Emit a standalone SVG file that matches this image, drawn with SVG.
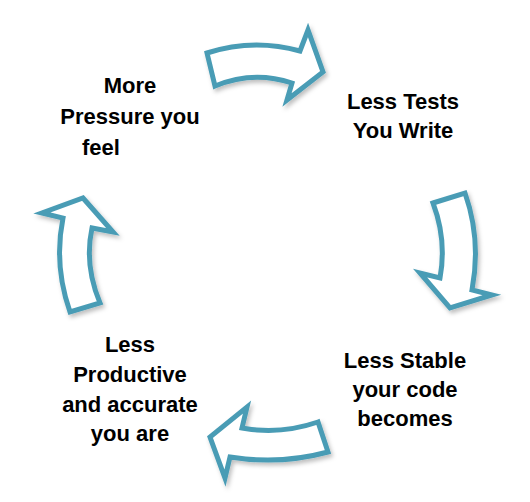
<svg xmlns="http://www.w3.org/2000/svg" width="530" height="502" viewBox="0 0 530 502">
<defs>
<style>
.arrow{fill:#ffffff;stroke:#4a9cb5;stroke-width:5;stroke-linejoin:miter;stroke-miterlimit:10;filter:url(#sh)}
.lbl{font-family:"Liberation Sans",Arial,sans-serif;font-weight:bold;font-size:22px;fill:#000000;text-anchor:middle}
</style>
<filter id="sh" x="-20%" y="-20%" width="150%" height="150%">
<feDropShadow dx="2" dy="3" stdDeviation="2" flood-color="#000000" flood-opacity="0.25"/>
</filter>
</defs>
<rect width="530" height="502" fill="#ffffff"/>
<g id="connectors">
<path id="arrow-top" class="arrow" d="M207,53 Q253,38 300,51 L308,30 L323,72 L287,100 L292,83 Q253,70 215,86 Z"/>
<path id="arrow-right" class="arrow" d="M433,203 L465,193 Q481.5,240 472,290 L492,295 L450,308 L420,273 L440,278 Q447,240 433,203 Z"/>
<path id="arrow-bottom" class="arrow" d="M318,422 Q280,435 242,428 L247,407 L210,437 L225,478 L230,457 Q280,465 328,452 Z"/>
<path id="arrow-left" class="arrow" d="M70,312 Q53.5,265 63,218 L42,213 L83,198 L113,232 L92,228 Q84,265 100,303 Z"/>
</g>
<g id="node-pressure">
<text class="lbl" x="130" y="93">More</text>
<text class="lbl" x="130" y="124">Pressure you</text>
<text class="lbl" x="82" y="155" style="text-anchor:start">feel</text>
</g>
<g id="node-tests">
<text class="lbl" x="403" y="109">Less Tests</text>
<text class="lbl" x="403" y="138">You Write</text>
</g>
<g id="node-stable">
<text class="lbl" x="405" y="368">Less Stable</text>
<text class="lbl" x="405" y="397">your code</text>
<text class="lbl" x="405" y="426">becomes</text>
</g>
<g id="node-productive">
<text class="lbl" x="130" y="352">Less</text>
<text class="lbl" x="130" y="382">Productive</text>
<text class="lbl" x="130" y="412">and accurate</text>
<text class="lbl" x="130" y="441">you are</text>
</g>
</svg>
